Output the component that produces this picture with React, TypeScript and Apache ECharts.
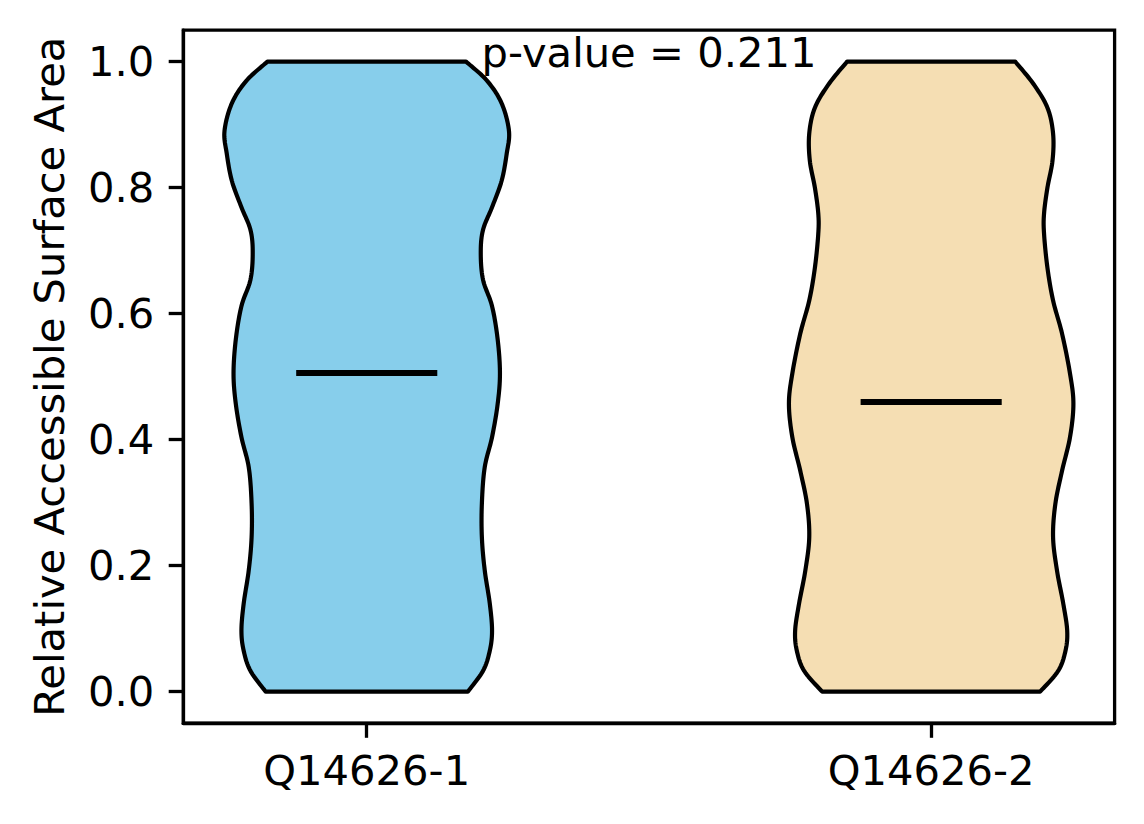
import React, { useEffect, useRef } from "react";
import * as echarts from "echarts";

const categories = ["Q14626-1", "Q14626-2"];
const positions = [1, 2];
const yTicks = [0, 0.2, 0.4, 0.6, 0.8, 1.0];

// violin outlines: y values and half-widths (x-axis units)
const violin1Y = [0.0, 0.033, 0.065, 0.097, 0.14, 0.193, 0.245, 0.299, 0.356, 0.404, 0.457, 0.505, 0.559, 0.612, 0.654, 0.697, 0.733, 0.769, 0.811, 0.854, 0.89, 0.934, 0.97, 1.0];
const violin1W = [0.179, 0.206, 0.218, 0.222, 0.218, 0.209, 0.204, 0.204, 0.209, 0.222, 0.232, 0.236, 0.232, 0.222, 0.206, 0.202, 0.206, 0.222, 0.239, 0.248, 0.252, 0.239, 0.213, 0.176];
const violin2Y = [0.0, 0.033, 0.065, 0.097, 0.14, 0.192, 0.245, 0.298, 0.351, 0.404, 0.457, 0.505, 0.568, 0.621, 0.673, 0.727, 0.759, 0.8, 0.843, 0.886, 0.927, 0.965, 1.0];
const violin2W = [0.193, 0.225, 0.238, 0.241, 0.234, 0.223, 0.216, 0.22, 0.232, 0.246, 0.252, 0.246, 0.232, 0.216, 0.206, 0.2, 0.2, 0.206, 0.215, 0.216, 0.206, 0.181, 0.149];

const medians = [0.506, 0.46];
const medianHalfWidth = 0.125;
const pValueText = "p-value = 0.211";

const violinYs = [violin1Y, violin2Y];
const violinWs = [violin1W, violin2W];
const colors = ["#87CEEB", "#F5DEB3"];

const FONT = "DejaVu Sans";
const FS = 41.67;

function sampleSpline(pts: number[][], steps = 12): number[][] {
  const out: number[][] = [];
  const n = pts.length;
  for (let i = 0; i < n - 1; i++) {
    const p0 = pts[Math.max(0, i - 1)];
    const p1 = pts[i];
    const p2 = pts[i + 1];
    const p3 = pts[Math.min(n - 1, i + 2)];
    const c1 = [p1[0] + (p2[0] - p0[0]) / 6, p1[1] + (p2[1] - p0[1]) / 6];
    const c2 = [p2[0] - (p3[0] - p1[0]) / 6, p2[1] - (p3[1] - p1[1]) / 6];
    for (let s = 0; s < steps; s++) {
      const t = s / steps;
      const mt = 1 - t;
      const a = mt * mt * mt, b = 3 * mt * mt * t, c = 3 * mt * t * t, d = t * t * t;
      out.push([
        a * p1[0] + b * c1[0] + c * c2[0] + d * p2[0],
        a * p1[1] + b * c1[1] + c * c2[1] + d * p2[1],
      ]);
    }
  }
  out.push(pts[n - 1]);
  return out;
}

export default function App() {
  const ref = useRef<HTMLDivElement>(null);
  useEffect(() => {
    if (!ref.current) return;
    const chart = echarts.init(ref.current, undefined, { renderer: "svg" });
    const option: any = {
      animation: false,
      backgroundColor: "#ffffff",
      grid: {
        left: 183.3,
        right: 29.4,
        top: 30.2,
        bottom: 100.8,
        show: true,
        borderColor: "#000",
        borderWidth: 3.3,
        backgroundColor: "transparent",
      },
      xAxis: {
        type: "value",
        min: 0.675,
        max: 2.325,
        splitLine: { show: false },
        axisLine: { show: true, onZero: false, lineStyle: { color: "#000", width: 3.3 } },
        axisTick: { show: true, customValues: positions, length: 14.6, lineStyle: { color: "#000", width: 3.3 } },
        axisLabel: {
          show: true,
          customValues: positions,
          margin: 26,
          color: "#000",
          fontFamily: FONT,
          fontSize: FS,
          formatter: (v: number) => categories[positions.indexOf(Math.round(v))] ?? "",
        },
      },
      yAxis: {
        type: "value",
        min: -0.05,
        max: 1.05,
        splitLine: { show: false },
        axisLine: { show: true, onZero: false, lineStyle: { color: "#000", width: 3.3 } },
        axisTick: { show: true, customValues: yTicks, length: 14.6, lineStyle: { color: "#000", width: 3.3 } },
        axisLabel: {
          show: true,
          customValues: yTicks,
          margin: 29,
          color: "#000",
          fontFamily: FONT,
          fontSize: FS,
          formatter: (v: number) => v.toFixed(1),
        },
      },
      series: [
        {
          type: "custom",
          coordinateSystem: "cartesian2d",
          data: positions.map((p, i) => [p, i]),
          encode: { x: 0 },
          z: 2,
          renderItem: (params: any, api: any) => {
            const i = params.dataIndex;
            const pos = positions[i];
            const ys = violinYs[i];
            const ws = violinWs[i];
            const right = ys.map((y, k) => api.coord([pos + ws[k], y]));
            const left = ys.map((y, k) => api.coord([pos - ws[k], y]));
            const rs = sampleSpline(right);
            const ls = sampleSpline(left).reverse();
            return {
              type: "polygon",
              shape: { points: rs.concat(ls) },
              style: { fill: colors[i], stroke: "#000", lineWidth: 4.2, lineJoin: "round" },
            };
          },
        },
        {
          type: "custom",
          coordinateSystem: "cartesian2d",
          data: positions.map((p, i) => [p, medians[i]]),
          encode: { x: 0, y: 1 },
          z: 3,
          renderItem: (params: any, api: any) => {
            const pos = api.value(0);
            const m = api.value(1);
            const a = api.coord([pos - medianHalfWidth, m]);
            const b = api.coord([pos + medianHalfWidth, m]);
            return {
              type: "line",
              shape: { x1: a[0], y1: a[1], x2: b[0], y2: b[1] },
              style: { stroke: "#000", lineWidth: 6, lineCap: "butt" },
            };
          },
        },
      ],
      graphic: [
        {
          type: "text",
          x: 649,
          y: 52.6,
          z: 10,
          style: {
            text: pValueText,
            fontFamily: FONT,
            fontSize: FS,
            fill: "#000",
            align: "center",
            verticalAlign: "middle",
          },
        },
        {
          type: "text",
          x: 49,
          y: 376.7,
          rotation: Math.PI / 2,
          style: {
            text: "Relative Accessible Surface Area",
            fontFamily: FONT,
            fontSize: FS,
            fill: "#000",
            align: "center",
            verticalAlign: "middle",
          },
        },
      ],
    };
    chart.setOption(option);
    return () => chart.dispose();
  }, []);
  return (
    <div
      ref={ref}
      style={{ position: "absolute", left: 0, top: 0, width: 1144, height: 824, background: "#fff" }}
    />
  );
}
